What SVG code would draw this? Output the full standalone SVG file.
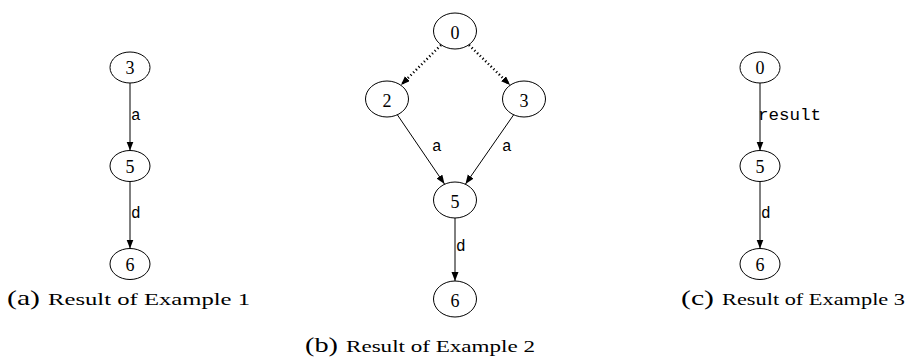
<svg xmlns="http://www.w3.org/2000/svg" width="907" height="361" viewBox="0 0 907 361">
<defs>
<style>
.node ellipse{fill:none;stroke:#000;stroke-width:1}
.node text{font-family:"Liberation Serif",serif;font-size:18px;text-anchor:middle}
.edge{stroke:#000;stroke-width:1;fill:none;marker-end:url(#ah)}
.dot{stroke:#000;stroke-width:2.5;fill:none;stroke-dasharray:1.2 2.6;marker-end:url(#ah)}
.lbl{font-family:"Liberation Mono",monospace;font-size:16px}
.cap{font-family:"Liberation Serif",serif;font-size:17px}
.capl{font-family:"Liberation Serif",serif;font-size:22px}
</style>
<marker id="ah" markerWidth="10" markerHeight="8" refX="9" refY="3.5" orient="auto" markerUnits="userSpaceOnUse">
<path d="M0,0 L9,3.5 L0,7 z" fill="#000"/>
</marker>
</defs>
<rect width="907" height="361" fill="#fff"/>
<g id="connectors">
<line class="edge" x1="130" y1="83" x2="130" y2="150.5"/>
<line class="edge" x1="130" y1="181.5" x2="130" y2="248.5"/>
<line class="dot" x1="441" y1="45" x2="401" y2="85"/>
<line class="dot" x1="469" y1="45" x2="510" y2="85"/>
<line class="edge" x1="397.5" y1="115" x2="444.5" y2="184"/>
<line class="edge" x1="513.5" y1="115" x2="465.5" y2="184"/>
<line class="edge" x1="455" y1="218" x2="455" y2="281"/>
<line class="edge" x1="760" y1="83" x2="760" y2="150.5"/>
<line class="edge" x1="760" y1="181.5" x2="760" y2="248.5"/>
<text class="lbl" x="131" y="120">a</text>
<text class="lbl" x="131" y="218">d</text>
<text class="lbl" x="432" y="151">a</text>
<text class="lbl" x="502" y="151">a</text>
<text class="lbl" x="456" y="251">d</text>
<text class="lbl" x="758" y="120" textLength="63" lengthAdjust="spacingAndGlyphs">result</text>
<text class="lbl" x="761" y="218">d</text>
</g>
<g id="a3" class="node"><ellipse cx="130" cy="67.5" rx="20" ry="15.5"/><text x="130" y="74">3</text></g>
<g id="a5" class="node"><ellipse cx="130" cy="166" rx="20" ry="15.5"/><text x="130" y="173">5</text></g>
<g id="a6" class="node"><ellipse cx="130" cy="264" rx="20" ry="15.5"/><text x="130" y="271">6</text></g>
<g id="b0" class="node"><ellipse cx="455" cy="31" rx="21.5" ry="18"/><text x="455" y="39">0</text></g>
<g id="b2" class="node"><ellipse cx="387" cy="99" rx="21.5" ry="18"/><text x="387" y="107">2</text></g>
<g id="b3" class="node"><ellipse cx="524" cy="99" rx="21.5" ry="18"/><text x="524" y="107">3</text></g>
<g id="b5" class="node"><ellipse cx="455" cy="200" rx="21.5" ry="18"/><text x="455" y="208">5</text></g>
<g id="b6" class="node"><ellipse cx="455" cy="299" rx="21.5" ry="18"/><text x="455" y="307">6</text></g>
<g id="c0" class="node"><ellipse cx="760" cy="67.5" rx="20" ry="15.5"/><text x="760" y="74">0</text></g>
<g id="c5" class="node"><ellipse cx="760" cy="166" rx="20" ry="15.5"/><text x="760" y="173">5</text></g>
<g id="c6" class="node"><ellipse cx="760" cy="264" rx="20" ry="15.5"/><text x="760" y="271">6</text></g>
<g id="captions">
<text class="capl" x="7" y="305" textLength="33" lengthAdjust="spacingAndGlyphs">(a)</text>
<text class="cap" x="48" y="305" textLength="202" lengthAdjust="spacingAndGlyphs">Result of Example 1</text>
<text class="capl" x="305" y="352" textLength="33" lengthAdjust="spacingAndGlyphs">(b)</text>
<text class="cap" x="346" y="352" textLength="189" lengthAdjust="spacingAndGlyphs">Result of Example 2</text>
<text class="capl" x="681" y="305" textLength="33" lengthAdjust="spacingAndGlyphs">(c)</text>
<text class="cap" x="722" y="305" textLength="183" lengthAdjust="spacingAndGlyphs">Result of Example 3</text>
</g>
</svg>
